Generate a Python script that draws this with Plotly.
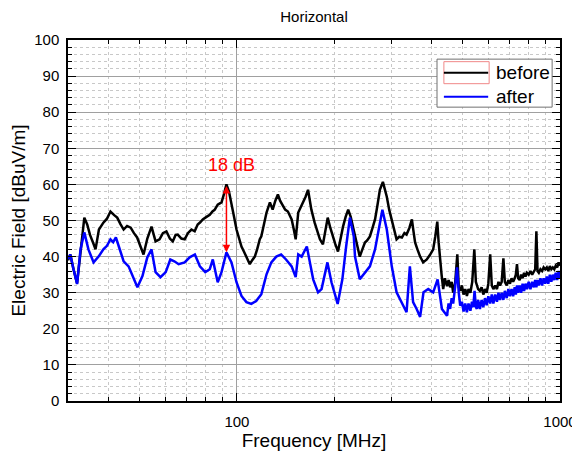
import math
import plotly.graph_objects as go

# ---------------- data ----------------
freq_before = [
    30.0, 30.5, 31.2, 32.0, 32.8, 33.7, 34.4, 35.1, 36.0, 36.5, 37.4, 38.6, 39.6, 40.6, 41.7, 42.6,
    43.6, 44.6, 45.7, 46.9, 48.0, 49.1, 50.2, 51.4, 52.8, 54.4, 56.0, 57.6, 59.0, 60.5, 62.0, 63.3,
    64.6, 65.6, 67.3, 68.9, 70.5, 72.3, 74.0, 75.6, 77.0, 78.4, 80.5, 82.4, 84.0, 85.4, 87.2, 89.6,
    91.3, 92.8, 94.5, 96.2, 98.0, 99.7, 101.5, 103.3, 105.0, 107.0, 109.6, 111.5, 113.6, 115.5,
    117.7, 119.0, 121.0, 123.5, 126.5, 129.0, 131.5, 133.9, 136.0, 138.8, 141.0, 143.8, 147.7,
    150.0, 152.0, 154.8, 157.5, 160.0, 163.0, 166.0, 168.0, 170.0, 174.0, 177.0, 180.7, 184.6,
    188.0, 191.0, 194.5, 198.0, 201.5, 205.5, 209.0, 213.0, 217.0, 221.0, 225.0, 229.0, 232.0,
    236.0, 240.0, 244.5, 249.0, 253.0, 258.0, 263.0, 267.6, 272.0, 277.0, 283.0, 287.0, 291.0,
    296.0, 301.5, 307.0, 312.0, 318.0, 324.0, 330.0, 335.0, 342.0, 348.0, 352.0, 356.0, 362.0,
    369.0, 377.0, 387.0, 396.0, 405.0, 411.0, 417.0, 421.0, 426.0, 430.0, 435.0, 440.0, 447.0,
    452.0, 457.0, 462.0, 467.0, 474.0, 481.0, 486.0, 491.0, 497.0, 503.0, 509.0, 515.0, 521.0,
    528.0, 535.0, 543.0, 549.0, 558.0, 565.0, 572.0, 579.0, 586.0, 593.0, 600.0, 608.0, 615.0,
    622.0, 630.0, 638.0, 645.0, 652.0, 660.0, 668.0, 675.0, 684.0, 692.0, 700.0, 708.0, 716.0,
    724.0, 730.0, 736.0, 742.0, 750.0, 758.0, 766.0, 774.0, 782.0, 790.0, 800.0, 810.0, 820.0,
    830.0, 838.0, 845.0, 852.0, 860.0, 870.0, 880.0, 890.0, 900.0, 910.0, 920.0, 930.0, 940.0,
    950.0, 960.0, 970.0, 980.0, 990.0, 1000.0,
]
before = [
    39.0, 40.6, 36.5, 32.6, 41.2, 50.8, 48.9, 46.0, 43.5, 42.0, 47.5, 49.4, 50.5, 52.5, 51.5, 50.8,
    49.0, 47.5, 48.5, 48.0, 46.5, 45.3, 43.0, 40.6, 45.0, 48.3, 44.2, 44.8, 46.5, 47.0, 45.0, 44.2,
    46.0, 46.1, 45.0, 44.8, 46.5, 47.5, 47.0, 48.9, 49.5, 50.3, 51.0, 51.6, 52.5, 53.0, 54.4, 55.0,
    57.5, 60.0, 58.0, 55.0, 51.0, 47.5, 45.0, 42.8, 41.5, 40.0, 37.9, 39.0, 40.0, 42.0,
    44.8, 45.6, 48.5, 52.2, 55.0, 53.0, 55.5, 57.2, 55.5, 53.9, 53.0, 52.5, 50.3,
    47.5, 44.8, 52.2, 53.5, 55.0, 56.5, 58.5, 56.0, 53.0, 49.4, 47.0, 44.8, 43.4,
    47.5, 50.8, 48.0, 45.6, 43.5, 41.4, 45.0, 48.3, 51.0, 53.0, 51.0, 48.0, 45.6,
    42.0, 40.0, 42.0, 43.9, 44.5, 45.6, 48.0, 50.3, 54.0, 58.5, 60.7, 58.5, 56.6,
    53.0, 50.3, 47.0, 44.8, 45.5, 45.3, 46.5, 46.1, 48.0, 50.3, 47.0, 43.9, 42.0,
    40.0, 38.4, 39.2, 40.5, 42.0, 45.5, 49.7, 44.0, 40.0, 35.0, 31.0, 34.0, 31.8,
    33.5, 31.5, 33.0, 30.0, 33.0, 40.6, 31.5, 30.5, 32.0, 29.5, 31.0, 29.1, 31.0,
    30.0, 33.0, 42.0, 33.0, 31.0, 30.5, 31.5, 29.5, 31.0, 30.0, 32.5, 40.6, 32.0,
    31.0, 32.0, 31.0, 33.0, 32.0, 33.0, 39.5, 33.0, 32.0, 33.5, 32.5, 34.0, 33.0,
    34.0, 35.0, 37.9, 34.0, 33.5, 35.0, 34.0, 35.5, 34.5, 35.5, 35.0, 36.0, 35.0,
    36.0, 36.5, 47.0, 36.0, 35.5, 36.5, 36.0, 37.0, 36.5, 37.0, 36.0, 37.4, 36.5,
    37.0, 36.5, 37.5, 37.0, 38.4, 37.5,
]

freq_after = [
    30.0, 30.5, 31.2, 32.0, 32.8, 33.7, 34.7, 36.0, 37.3, 38.6, 39.6, 40.6, 41.4, 42.2, 43.1, 44.6,
    46.2, 47.5, 49.2, 51.0, 52.8, 54.4, 56.0, 58.0, 60.2, 62.2, 64.0, 66.0, 68.9, 71.4, 74.1, 76.8,
    79.8, 82.4, 84.2, 87.2, 89.6, 92.8, 96.2, 99.7, 103.3, 107.0, 110.8, 114.7, 119.0, 123.5,
    127.8, 132.4, 137.0, 141.9, 147.7, 152.0, 154.8, 158.6, 164.6, 168.2, 172.2, 178.3, 182.8,
    190.6, 196.2, 205.0, 212.0, 217.8, 223.7, 230.0, 232.0, 240.0, 249.0, 258.0, 267.6, 277.0,
    282.0, 291.0, 301.5, 312.0, 324.0, 335.0, 343.0, 351.0, 360.0, 369.0, 378.0, 391.0, 405.0,
    418.0, 431.0, 447.0, 452.0, 457.0, 462.0, 467.0, 474.0, 480.0, 486.0, 491.0, 497.0, 503.0,
    509.0, 515.0, 521.0, 528.0, 534.0, 539.0, 544.0, 549.0, 553.0, 558.0, 565.0, 572.0, 579.0,
    586.0, 593.0, 600.0, 608.0, 615.0, 622.0, 630.0, 638.0, 645.0, 652.0, 660.0, 668.0, 675.0,
    684.0, 692.0, 700.0, 708.0, 716.0, 724.0, 730.0, 736.0, 742.0, 750.0, 758.0, 766.0, 774.0,
    782.0, 790.0, 800.0, 810.0, 820.0, 830.0, 838.0, 845.0, 852.0, 860.0, 870.0, 880.0, 890.0,
    900.0, 910.0, 920.0, 930.0, 940.0, 950.0, 960.0, 970.0, 980.0, 990.0, 1000.0,
]
after = [
    39.3, 40.6, 36.5, 32.4, 42.0, 46.7, 42.0, 38.4, 40.0, 42.0, 43.0, 44.8, 44.0, 45.3, 42.8, 38.7,
    37.3, 34.6, 31.5, 34.6, 39.8, 42.0, 35.7, 34.3, 35.7, 39.2, 38.7, 37.9, 38.4, 39.8, 40.6, 37.3,
    35.7, 36.5, 39.2, 32.9, 35.7, 41.2, 38.4, 32.9, 29.1, 27.4, 26.9, 27.7, 29.6, 35.1,
    38.4, 40.0, 40.6, 39.2, 37.3, 34.3, 40.6, 40.0, 42.8, 38.4, 33.7, 30.1, 31.0,
    38.4, 32.9, 26.9, 33.7, 42.8, 50.8, 45.6, 40.0, 33.7, 35.7, 37.3, 42.0, 49.4,
    53.0, 47.5, 37.3, 30.1, 27.4, 24.6, 37.3, 27.4, 25.5, 23.3, 30.1, 31.0, 30.1,
    33.7, 25.5, 23.6, 27.0, 25.5, 28.5, 27.0, 31.9, 37.0, 30.0, 26.4, 27.5, 24.8,
    27.0, 24.6, 27.0, 25.0, 27.5, 26.0, 30.5, 26.0, 25.5, 28.0, 25.5, 28.0, 26.0,
    28.5, 26.5, 29.0, 27.0, 29.5, 27.0, 29.5, 27.5, 30.0, 28.0, 30.0, 28.0, 30.5,
    28.5, 31.0, 29.0, 31.0, 29.0, 31.5, 29.5, 32.0, 30.0, 32.0, 30.0, 32.5, 30.5,
    32.5, 31.0, 33.0, 31.0, 33.0, 31.5, 33.5, 31.5, 33.5, 32.0, 34.0, 32.0, 34.0,
    32.5, 34.5, 32.5, 35.0, 33.0, 35.0, 33.5, 35.5, 33.5, 36.0, 34.0,
]

series_names = ["before", "after"]
series_colors = ["#000000", "#0000ff"]

y_ticks = [0, 10, 20, 30, 40, 50, 60, 70, 80, 90, 100]
x_major_ticks = [100, 1000]
x_minor_ticks = [40, 50, 60, 70, 80, 90, 200, 300, 400, 500, 600, 700, 800, 900]

marker_freq = 92.8      # frequency of the "18 dB" marker
marker_top = 60.0       # before level at the marker
marker_bottom = 41.2    # after level at the marker
marker_label = "18 dB"

FONT = "Liberation Sans, Arial, sans-serif"

# page body has an 8px margin, so the figure is drawn 8px smaller
FIG_W, FIG_H = 572, 451

fig = go.Figure()
for xs, ys, name, col in zip([freq_before, freq_after], [before, after],
                             series_names, series_colors):
    fig.add_trace(go.Scatter(x=xs, y=ys, mode="lines", name=name,
                             line=dict(color=col, width=2.5), showlegend=False))

fig.update_layout(
    template="none",
    width=FIG_W, height=FIG_H,
    margin=dict(l=60, r=20, t=32, b=58, autoexpand=False),
    paper_bgcolor="white", plot_bgcolor="white",
    font=dict(family=FONT, color="black", size=15),
    title=dict(text="Horizontal", x=0.5, xref="paper", xanchor="center",
               y=1 - 9 / FIG_H, yref="container", yanchor="middle",
               font=dict(size=15, family=FONT, color="black")),
    showlegend=False,
)

fig.update_xaxes(
    type="log", range=[math.log10(30), 3], automargin=False,
    tickmode="array", tickvals=x_major_ticks, ticktext=[str(v) for v in x_major_ticks],
    ticks="inside", ticklen=8, tickwidth=1, tickcolor="black",
    showline=True, linecolor="black", linewidth=1.5, mirror="allticks",
    showgrid=True, gridcolor="#a0a0a0", gridwidth=1, zeroline=False,
    tickfont=dict(size=15, family=FONT), ticklabelstandoff=6,
    title=dict(text="Frequency [MHz]", font=dict(size=19, family=FONT), standoff=5),
    minor=dict(tickmode="array", tickvals=x_minor_ticks, ticks="inside", ticklen=4,
               tickcolor="black", showgrid=True, gridcolor="#c8c8c8", griddash="dot",
               gridwidth=1),
)
fig.update_yaxes(
    range=[0, 100], automargin=False, tickmode="array", tickvals=y_ticks,
    ticks="inside", ticklen=8, tickwidth=1, tickcolor="black",
    showline=True, linecolor="black", linewidth=1.5, mirror="allticks",
    showgrid=True, gridcolor="#a0a0a0", gridwidth=1, zeroline=False,
    tickfont=dict(size=15, family=FONT), ticklabelstandoff=4,
    title=dict(text="Electric Field [dBuV/m]", font=dict(size=19, family=FONT), standoff=5),
    minor=dict(dtick=2, ticks="inside", ticklen=4, tickcolor="black",
               showgrid=True, gridcolor="#c8c8c8", griddash="dot", gridwidth=1),
)

# double-headed marker arrow + label
fig.add_annotation(x=math.log10(marker_freq), y=marker_bottom,
                   ax=math.log10(marker_freq), ay=marker_top,
                   xref="x", yref="y", axref="x", ayref="y",
                   text="", showarrow=True, arrowhead=2, startarrowhead=2,
                   arrowside="end+start", arrowsize=1, startarrowsize=1,
                   arrowwidth=1.5, arrowcolor="#ff0000", standoff=0, startstandoff=0)
fig.add_annotation(x=math.log10(marker_freq), y=marker_top + 2,
                   xref="x", yref="y", xshift=5, text=marker_label, showarrow=False,
                   yanchor="bottom", font=dict(size=18, family=FONT, color="#ff0000"))

# legend box (paper coordinates of the plot area)
LEG_X0, LEG_X1, LEG_Y0, LEG_Y1 = 0.75, 0.984, 0.814, 0.947
fig.add_shape(type="rect", xref="paper", yref="paper",
              x0=LEG_X0, x1=LEG_X1, y0=LEG_Y0, y1=LEG_Y1,
              line=dict(color="#707070", width=1), fillcolor="white", layer="above")
fig.add_shape(type="rect", xref="paper", yref="paper",
              x0=0.764, x1=0.856, y0=0.879, y1=0.940,
              line=dict(color="#f08888", width=1), fillcolor="rgba(0,0,0,0)", layer="above")
legend_rows = [0.909, 0.843]
for name, col, yrow in zip(series_names, series_colors, legend_rows):
    fig.add_shape(type="line", xref="paper", yref="paper",
                  x0=0.764, x1=0.854, y0=yrow, y1=yrow,
                  line=dict(color=col, width=2), layer="above")
    fig.add_annotation(x=0.866, y=yrow, xref="paper", yref="paper", text=name,
                       showarrow=False, xanchor="left", yanchor="middle",
                       font=dict(size=19, family=FONT, color="black"))

fig.write_html("out.html")
